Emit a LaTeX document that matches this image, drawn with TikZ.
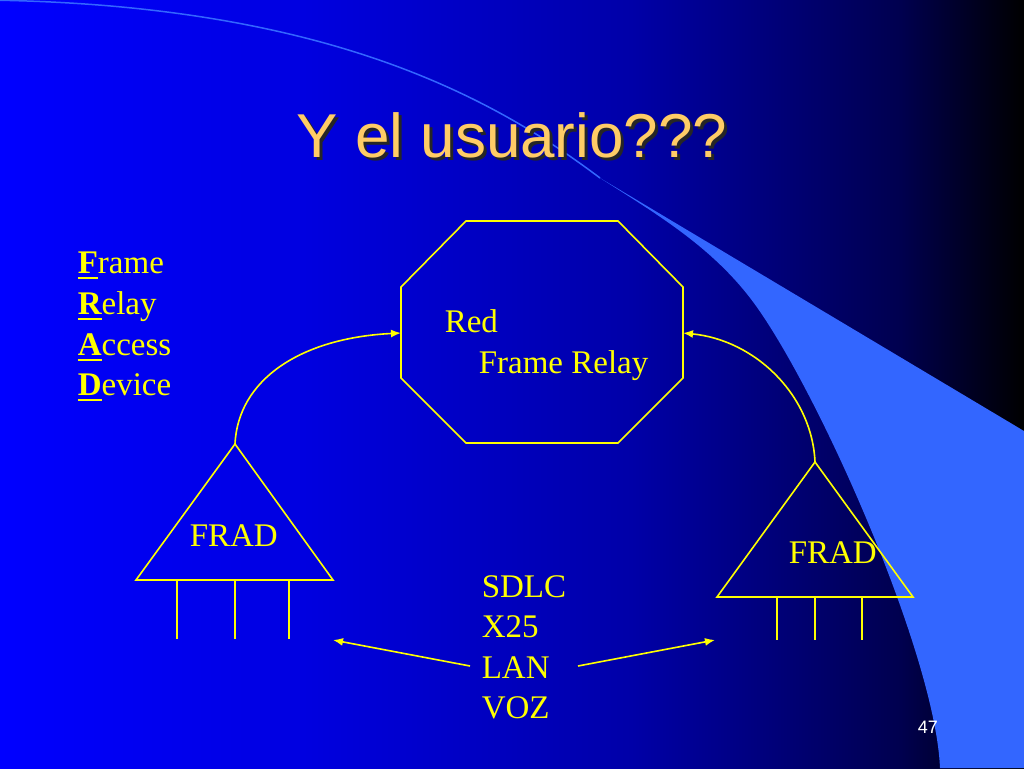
\documentclass[tikz,border=0pt]{standalone}
\usepackage{fontspec}
\setmainfont{Liberation Serif}
\newfontfamily\arialfont{Liberation Sans}
\usepackage{tikz}
\usetikzlibrary{arrows.meta}
\definecolor{swoosh}{HTML}{3366FF}
\definecolor{titlecol}{HTML}{FFCC66}
\definecolor{yel}{HTML}{FFFF00}
\pgfdeclarehorizontalshading{slidebg}{100bp}{rgb(0bp)=(0,0,1); rgb(25bp)=(0,0,1); rgb(39.65bp)=(0,0,0.88); rgb(55.75bp)=(0,0,0.66); rgb(68.95bp)=(0,0,0.31); rgb(75bp)=(0,0,0); rgb(100bp)=(0,0,0)}
\newcommand{\firstl}[1]{\sbox0{\bfseries #1}\rlap{\rule[-6pt]{\wd0}{2.5pt}}\usebox0}

\begin{document}
\begin{tikzpicture}[x=1pt, y=-1pt, line width=1.6pt,
  txt/.style={text=yel, font=\fontsize{33}{40}\selectfont, anchor=base west, inner sep=0pt},
  link/.style={draw=yel, -{Latex[length=10pt,width=8pt]}},
  box/.style={draw=yel}]
\useasboundingbox (0,0) rectangle (1024,768);
\shade [shading=slidebg] (0,0) rectangle (1024,768);

% swoosh
\fill [swoosh] (1024,431) -- (600,178) .. controls (655,213) and (707,244) .. (747,294)
  .. controls (810,372) and (935,650) .. (940,768) -- (1024,768) -- cycle;
\draw [swoosh, line width=1.5pt] (-20,0) .. controls (320,3) and (490,95) .. (600,178);

% title
\node [font=\arialfont\fontsize{62}{70}\selectfont, text=black!85, anchor=base] (titleshadow) at (515,160) {Y el usuario???};
\node [font=\arialfont\fontsize{62}{70}\selectfont, text=titlecol, anchor=base] (title) at (512,157) {Y el usuario???};

% FRAD
\node [txt] (frame) at (77,273) {\firstl{F}rame};
\node [txt] (relay) at (77,314) {\firstl{R}elay};
\node [txt] (access) at (77,355) {\firstl{A}ccess};
\node [txt] (device) at (77,395) {\firstl{D}evice};

% red
\draw [box] (466,221) -- (618,221) -- (683,287) -- (683,378) -- (618,443) -- (466,443) -- (401,378) -- (401,287) -- cycle;
\coordinate (redL) at (401,333);
\coordinate (redR) at (683,333);
\node [txt] (red) at (444,332) {Red};
\node [txt] (redname) at (478,373) {Frame Relay};

% left frad
\coordinate (fradLtop) at (235,444);
\draw [box] (fradLtop) -- (333,580) -- (136,580) -- cycle;
\draw [box] (177,580) -- (177,639);
\draw [box] (235,580) -- (235,639);
\draw [box] (289,580) -- (289,639);
\node [txt] (fradL) at (189,546) {FRAD};

% right frad
\coordinate (fradRtop) at (815,462);
\draw [box] (fradRtop) -- (913,597) -- (717,597) -- cycle;
\draw [box] (777,597) -- (777,640);
\draw [box] (815,597) -- (815,640);
\draw [box] (862,597) -- (862,640);
\node [txt] (fradR) at (788,563) {FRAD};

\draw [link] (fradLtop) .. controls (238,380) and (300,338) .. (redL);
\draw [link] (fradRtop) .. controls (812,395) and (755,340) .. (redR);

% protocolos
\node [txt] (sdlc) at (481,597) {SDLC};
\node [txt] (xtwo) at (481,637) {X25};
\node [txt] (lan) at (481,678) {LAN};
\node [txt] (voz) at (481,718) {VOZ};
\coordinate (lanL) at (470,666);
\coordinate (lanR) at (578,666);
\coordinate (portL) at (333,640);
\coordinate (portR) at (715,640);
\draw [link] (lanL) -- (portL);
\draw [link] (lanR) -- (portR);

\node [font=\arialfont\fontsize{18}{20}\selectfont, text=white, anchor=base west, inner sep=0pt] (pagenum) at (917,733) {47};
\end{tikzpicture}
\end{document}
